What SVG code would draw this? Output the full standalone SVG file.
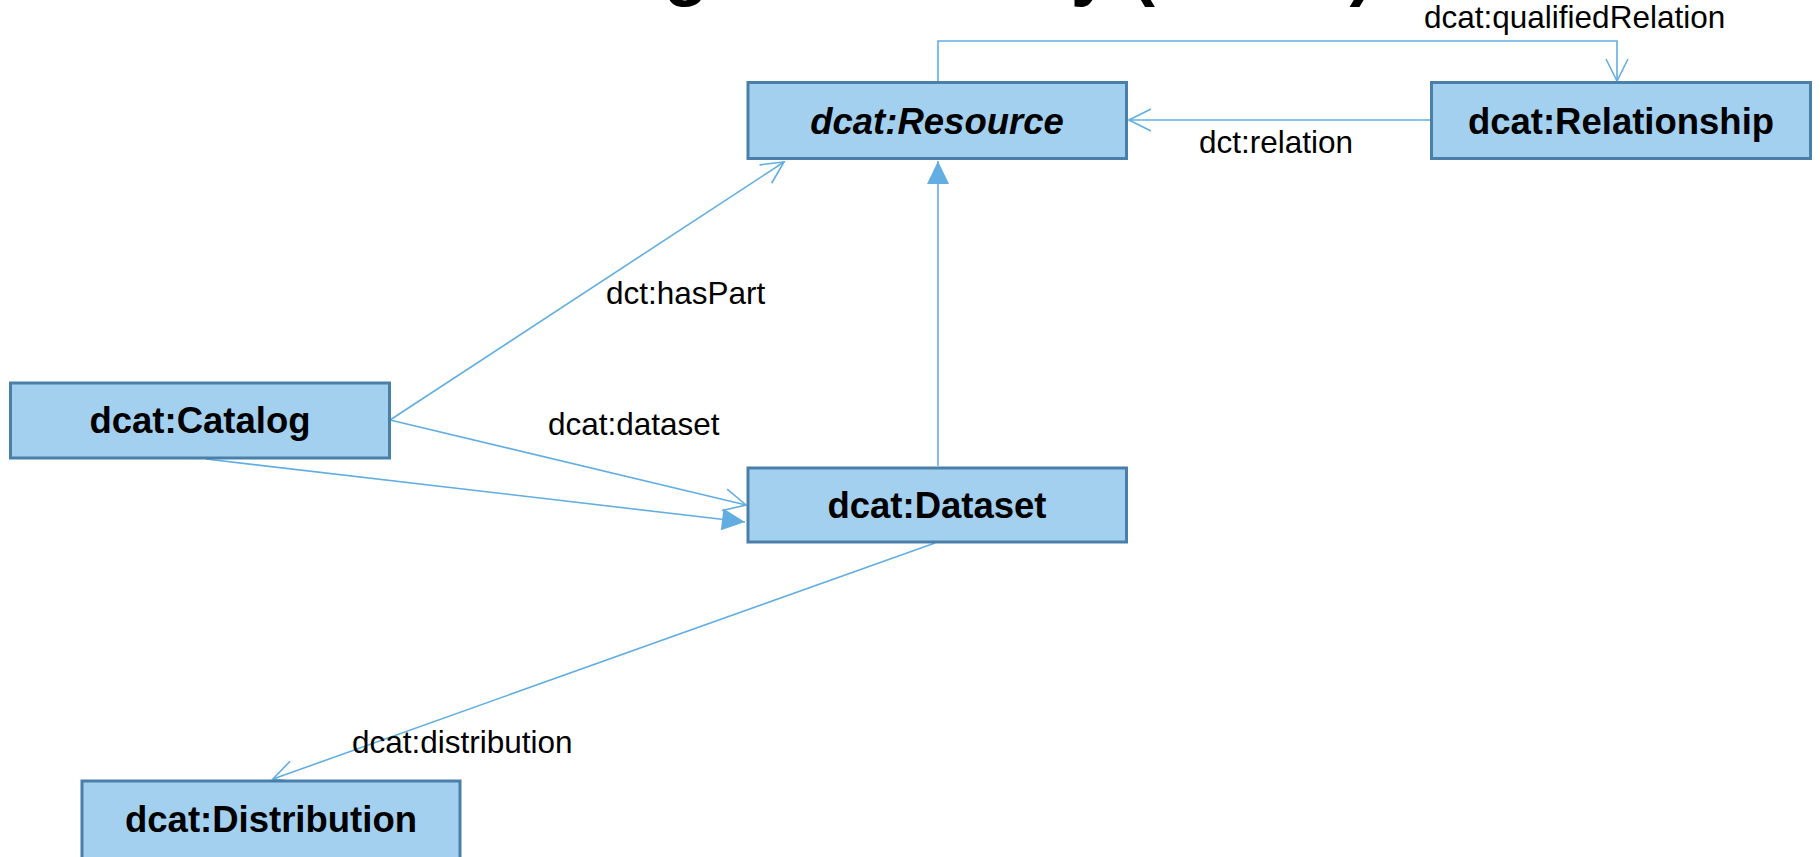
<svg xmlns="http://www.w3.org/2000/svg" width="1820" height="857" viewBox="0 0 1820 857">
<style>
.node rect { fill:#A3D0EE; stroke:#4A7FAA; stroke-width:3; }
.node text { font-family:"Liberation Sans",Arial,sans-serif; font-weight:bold; font-size:36.5px; text-anchor:middle; fill:#000; }
.edge { fill:none; stroke:#62AEE3; stroke-width:1.6; }
.lbl { font-family:"Liberation Sans",Arial,sans-serif; font-size:31.5px; fill:#000; }
.title { font-family:"Liberation Sans",Arial,sans-serif; font-weight:bold; font-size:72px; fill:#000; }
</style>
<defs>
<marker id="open" markerUnits="userSpaceOnUse" markerWidth="26" markerHeight="26" viewBox="-24 -13 26 26" refX="0" refY="0" orient="auto">
<path d="M-22,-11 L0,0 L-22,11" fill="none" stroke="#62AEE3" stroke-width="1.6"/>
</marker>
<marker id="tri" markerUnits="userSpaceOnUse" markerWidth="27" markerHeight="26" viewBox="-25 -13 27 26" refX="0" refY="0" orient="auto">
<path d="M-23,-11 L0,0 L-23,11 Z" fill="#62AEE3"/>
</marker>
</defs>
<text class="title" x="268" y="-8">Data Catalog Vocabulary (DCAT)</text>
<g id="connectors">
<path class="edge" d="M938,81 L938,41 L1617,41 L1617,81" marker-end="url(#open)"/>
<path class="edge" d="M1430,120 L1129,120" marker-end="url(#open)"/>
<path class="edge" d="M390,420 L784,162" marker-end="url(#open)"/>
<path class="edge" d="M390,420 L746,505" marker-end="url(#open)"/>
<path class="edge" d="M206,459 L745,522" marker-end="url(#tri)"/>
<path class="edge" d="M938,466 L938,161" marker-end="url(#tri)"/>
<path class="edge" d="M935,543 L273,779" marker-end="url(#open)"/>
<text class="lbl" x="1424" y="28">dcat:qualifiedRelation</text>
<text class="lbl" x="1199" y="153">dct:relation</text>
<text class="lbl" x="606" y="304">dct:hasPart</text>
<text class="lbl" x="548" y="435">dcat:dataset</text>
<text class="lbl" x="352" y="753">dcat:distribution</text>
</g>
<g id="resource" class="node">
<rect x="748" y="82.5" width="378.5" height="76"/>
<text x="937" y="134" font-style="italic">dcat:Resource</text>
</g>
<g id="relationship" class="node">
<rect x="1431.5" y="82.5" width="379" height="76"/>
<text x="1621" y="134">dcat:Relationship</text>
</g>
<g id="catalog" class="node">
<rect x="10.5" y="383" width="379" height="75"/>
<text x="200" y="433">dcat:Catalog</text>
</g>
<g id="dataset" class="node">
<rect x="748" y="468" width="378.5" height="74"/>
<text x="937" y="518">dcat:Dataset</text>
</g>
<g id="distribution" class="node">
<rect x="82" y="781" width="378" height="78"/>
<text x="271" y="832">dcat:Distribution</text>
</g>
</svg>
